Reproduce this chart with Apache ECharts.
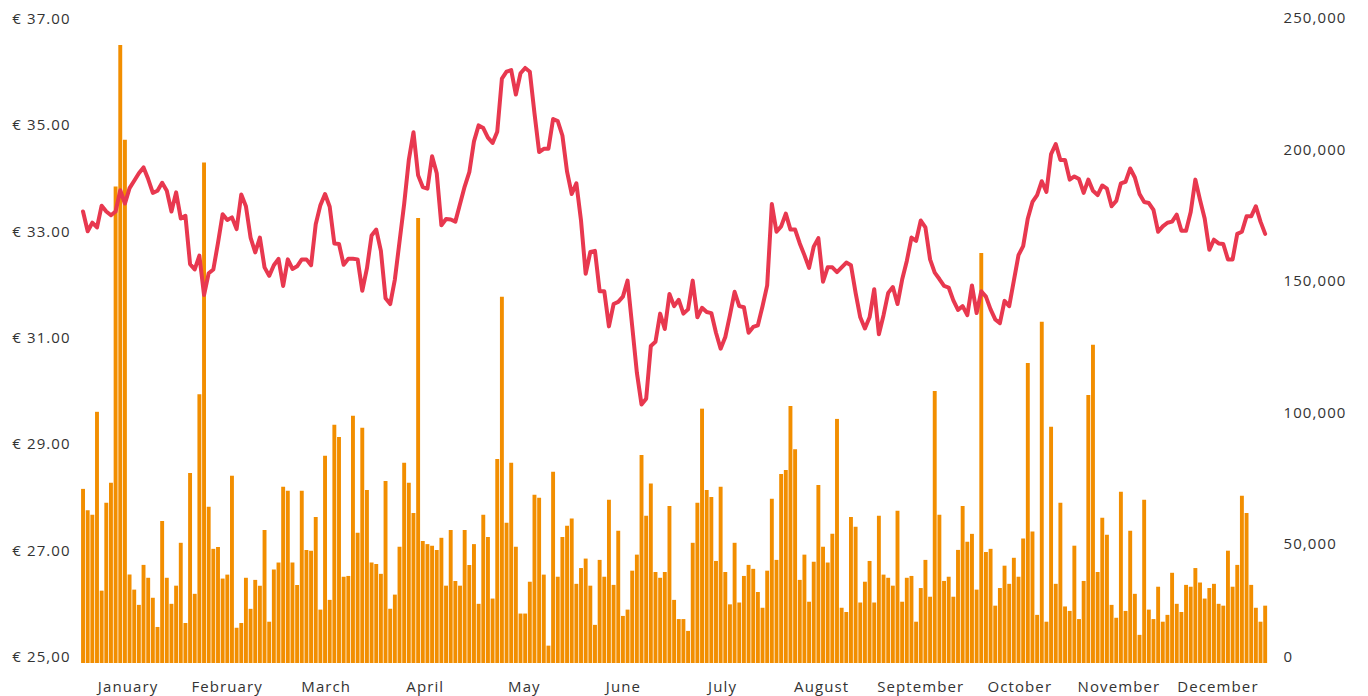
<!DOCTYPE html>
<html>
<head>
<meta charset="utf-8">
<script src="https://cdn.jsdelivr.net/npm/echarts@6/dist/echarts.min.js"></script>
<style>
html, body { margin: 0; padding: 0; background: #fff; }
#chart { width: 1368px; height: 696px; }
#chart text { letter-spacing: 1.1px; }
</style>
</head>
<body>
<div id="chart"></div>
<script>
const months = ['January', 'February', 'March', 'April', 'May', 'June',
  'July', 'August', 'September', 'October', 'November', 'December'];

const priceLabels = ['€ 25,00', '€ 27.00', '€ 29.00', '€ 31.00', '€ 33.00', '€ 35.00', '€ 37.00'];
const volumeLabels = ['0', '50,000', '100,000', '150,000', '200,000', '250,000'];

// closing price per trading day (€)
const price = [
  33.36, 32.99, 33.15, 33.06, 33.47, 33.36, 33.29, 33.36, 33.76, 33.51,
  33.80, 33.94, 34.08, 34.19, 33.97, 33.71, 33.75, 33.90, 33.75, 33.36,
  33.72, 33.23, 33.28, 32.37, 32.27, 32.53, 31.79, 32.20, 32.27, 32.77,
  33.31, 33.20, 33.25, 33.03, 33.68, 33.46, 32.87, 32.59, 32.87, 32.31,
  32.15, 32.35, 32.47, 31.96, 32.46, 32.28, 32.33, 32.46, 32.46, 32.35,
  33.12, 33.48, 33.69, 33.45, 32.76, 32.75, 32.36, 32.47, 32.47, 32.46,
  31.87, 32.29, 32.91, 33.02, 32.62, 31.73, 31.62, 32.08, 32.79, 33.50,
  34.33, 34.85, 34.04, 33.82, 33.79, 34.40, 34.08, 33.10, 33.22, 33.21,
  33.17, 33.50, 33.83, 34.10, 34.68, 34.98, 34.93, 34.75, 34.65, 34.86,
  35.86, 35.99, 36.02, 35.56, 35.96, 36.06, 35.99, 35.21, 34.48, 34.54,
  34.54, 35.10, 35.06, 34.79, 34.11, 33.69, 33.89, 33.19, 32.19, 32.60,
  32.62, 31.86, 31.86, 31.20, 31.62, 31.66, 31.76, 32.06, 31.20, 30.33,
  29.73, 29.84, 30.83, 30.91, 31.44, 31.15, 31.81, 31.58, 31.70, 31.44,
  31.52, 32.06, 31.37, 31.55, 31.47, 31.45, 31.08, 30.78, 31.00, 31.41,
  31.85, 31.58, 31.56, 31.08, 31.19, 31.22, 31.58, 31.97, 33.50, 32.98,
  33.08, 33.32, 33.02, 33.02, 32.76, 32.54, 32.30, 32.70, 32.86, 32.04,
  32.31, 32.31, 32.22, 32.31, 32.40, 32.35, 31.83, 31.37, 31.16, 31.37,
  31.90, 31.05, 31.41, 31.83, 31.94, 31.62, 32.08, 32.43, 32.87, 32.81,
  33.19, 33.06, 32.46, 32.21, 32.09, 31.96, 31.93, 31.69, 31.51, 31.58,
  31.41, 31.97, 31.45, 31.86, 31.76, 31.52, 31.33, 31.26, 31.68, 31.58,
  32.06, 32.54, 32.71, 33.23, 33.54, 33.67, 33.93, 33.73, 34.44, 34.63,
  34.33, 34.33, 33.96, 34.02, 33.97, 33.71, 33.96, 33.75, 33.67, 33.85,
  33.79, 33.46, 33.56, 33.89, 33.92, 34.17, 34.00, 33.69, 33.54, 33.52,
  33.39, 32.98, 33.08, 33.15, 33.17, 33.30, 33.00, 33.00, 33.35, 33.96,
  33.58, 33.23, 32.64, 32.83, 32.76, 32.75, 32.46, 32.46, 32.94, 32.98,
  33.27, 33.27, 33.46, 33.17, 32.94
];

// traded volume per day, in thousands
const volumeThousands = [
  70.6, 62.5, 60.8, 99.9, 31.9, 65.3, 72.9, 185.6, 239.4, 203.3,
  38.0, 32.3, 26.5, 41.7, 36.8, 29.2, 18.1, 58.4, 36.8, 26.9,
  33.8, 50.1, 19.6, 76.6, 30.7, 106.6, 194.7, 63.8, 47.8, 48.5,
  36.5, 38.0, 75.6, 17.8, 19.6, 36.8, 25.0, 36.0, 33.8, 55.0,
  20.1, 39.9, 42.6, 71.4, 69.9, 42.6, 34.1, 69.9, 47.4, 47.1,
  59.9, 24.7, 83.2, 28.4, 95.0, 90.3, 37.2, 37.5, 98.4, 53.9,
  93.8, 70.2, 42.6, 42.0, 38.3, 73.6, 25.0, 30.4, 48.6, 80.5,
  72.9, 61.4, 173.6, 50.8, 49.6, 49.0, 47.4, 52.0, 33.8, 55.0,
  35.6, 33.8, 55.0, 41.7, 49.6, 26.9, 60.8, 52.3, 28.9, 82.0,
  143.6, 57.7, 80.5, 48.6, 23.2, 23.2, 35.3, 68.4, 67.2, 38.0,
  11.0, 77.1, 37.2, 52.3, 56.6, 59.3, 34.5, 40.5, 44.1, 33.8,
  18.9, 43.6, 37.2, 66.5, 34.1, 54.7, 22.3, 24.7, 39.5, 45.6,
  83.5, 60.4, 72.6, 39.0, 36.8, 39.0, 64.1, 28.4, 21.1, 21.1,
  16.6, 50.1, 65.3, 101.1, 70.2, 67.5, 43.2, 71.4, 39.0, 26.7,
  50.1, 27.4, 37.5, 41.7, 40.2, 31.4, 25.4, 39.5, 66.8, 43.6,
  76.3, 77.8, 102.1, 85.7, 36.0, 45.6, 27.7, 42.9, 72.1, 48.6,
  42.6, 53.5, 97.2, 25.4, 23.8, 59.9, 56.2, 27.4, 35.3, 43.2,
  27.4, 60.4, 38.0, 36.8, 33.8, 62.3, 27.7, 36.8, 37.5, 20.1,
  32.9, 43.6, 29.6, 107.8, 60.8, 35.6, 37.2, 29.6, 47.4, 64.1,
  50.5, 53.5, 32.3, 160.3, 46.6, 47.8, 26.2, 32.9, 41.4, 34.5,
  44.4, 37.2, 51.7, 118.5, 54.4, 22.7, 134.1, 20.1, 94.2, 34.5,
  65.3, 25.9, 24.2, 49.0, 21.1, 35.6, 106.3, 125.4, 39.0, 59.6,
  53.2, 26.5, 21.6, 69.5, 24.2, 54.7, 30.7, 15.1, 66.5, 24.7,
  21.1, 33.4, 20.1, 22.7, 38.7, 26.9, 23.8, 34.1, 33.4, 40.5,
  35.0, 28.9, 32.9, 34.5, 26.9, 26.2, 47.1, 33.4, 41.7, 68.0,
  61.4, 34.1, 25.4, 20.1, 26.2
];

const days = price.map((_, i) => i + 1);
const volume = volumeThousands.map(v => Math.round(v * 1000));

const labelFont = { fontFamily: 'Open Sans', fontSize: 15, color: '#333' };
const plotLeft = 80.7;
const plotWidth = 1186.8;

const chart = echarts.init(document.getElementById('chart'), null, { renderer: 'svg' });

const option = {
  animation: false,
  backgroundColor: '#fff',
  grid: [
    { left: plotLeft, width: plotWidth, top: 18, height: 638 },    // price line
    { left: plotLeft, width: plotWidth, top: 17, height: 646 },    // volume bars
    { left: plotLeft, width: plotWidth, top: 17, height: 657.5 },  // volume tick labels
    { left: 78.5, width: 1189, top: 17, height: 646 }              // month labels
  ],
  xAxis: [
    { type: 'category', gridIndex: 0, data: days, show: false },
    { type: 'category', gridIndex: 1, data: days, show: false },
    { type: 'category', gridIndex: 2, data: days, show: false },
    {
      type: 'category', gridIndex: 3, data: months,
      axisLine: { show: false }, axisTick: { show: false },
      axisLabel: Object.assign({ interval: 0, margin: 15 }, labelFont)
    }
  ],
  yAxis: [
    {
      type: 'value', gridIndex: 0, min: 25, max: 37, interval: 2,
      splitLine: { show: false }, axisLine: { show: false }, axisTick: { show: false },
      axisLabel: Object.assign({ margin: 10, formatter: v => priceLabels[Math.round((v - 25) / 2)] }, labelFont)
    },
    {
      type: 'value', gridIndex: 0, position: 'right', min: 0, max: 250000, interval: 250000,
      splitLine: { show: false }, axisLine: { show: false }, axisTick: { show: false },
      axisLabel: Object.assign({ margin: 16, formatter: v => (v === 0 ? volumeLabels[0] : '') }, labelFont)
    },
    { type: 'value', gridIndex: 1, min: 4400, max: 250000, show: false },
    {
      type: 'value', gridIndex: 2, position: 'right', min: 0, max: 250000, interval: 50000,
      splitLine: { show: false }, axisLine: { show: false }, axisTick: { show: false },
      axisLabel: Object.assign({ margin: 16, showMinLabel: false, formatter: v => volumeLabels[Math.round(v / 50000)] }, labelFont)
    },
    { type: 'value', gridIndex: 3, show: false }
  ],
  series: [
    {
      name: 'Volume',
      type: 'bar',
      xAxisIndex: 1,
      yAxisIndex: 2,
      data: volume,
      barCategoryGap: '16%',
      clip: true,
      itemStyle: { color: '#f28e00' },
      z: 1
    },
    {
      name: 'Price',
      type: 'line',
      xAxisIndex: 0,
      yAxisIndex: 0,
      data: price,
      showSymbol: false,
      lineStyle: { color: '#e8384f', width: 4, join: 'round', cap: 'round' },
      z: 3
    }
  ]
};

chart.setOption(option);
</script>
</body>
</html>
